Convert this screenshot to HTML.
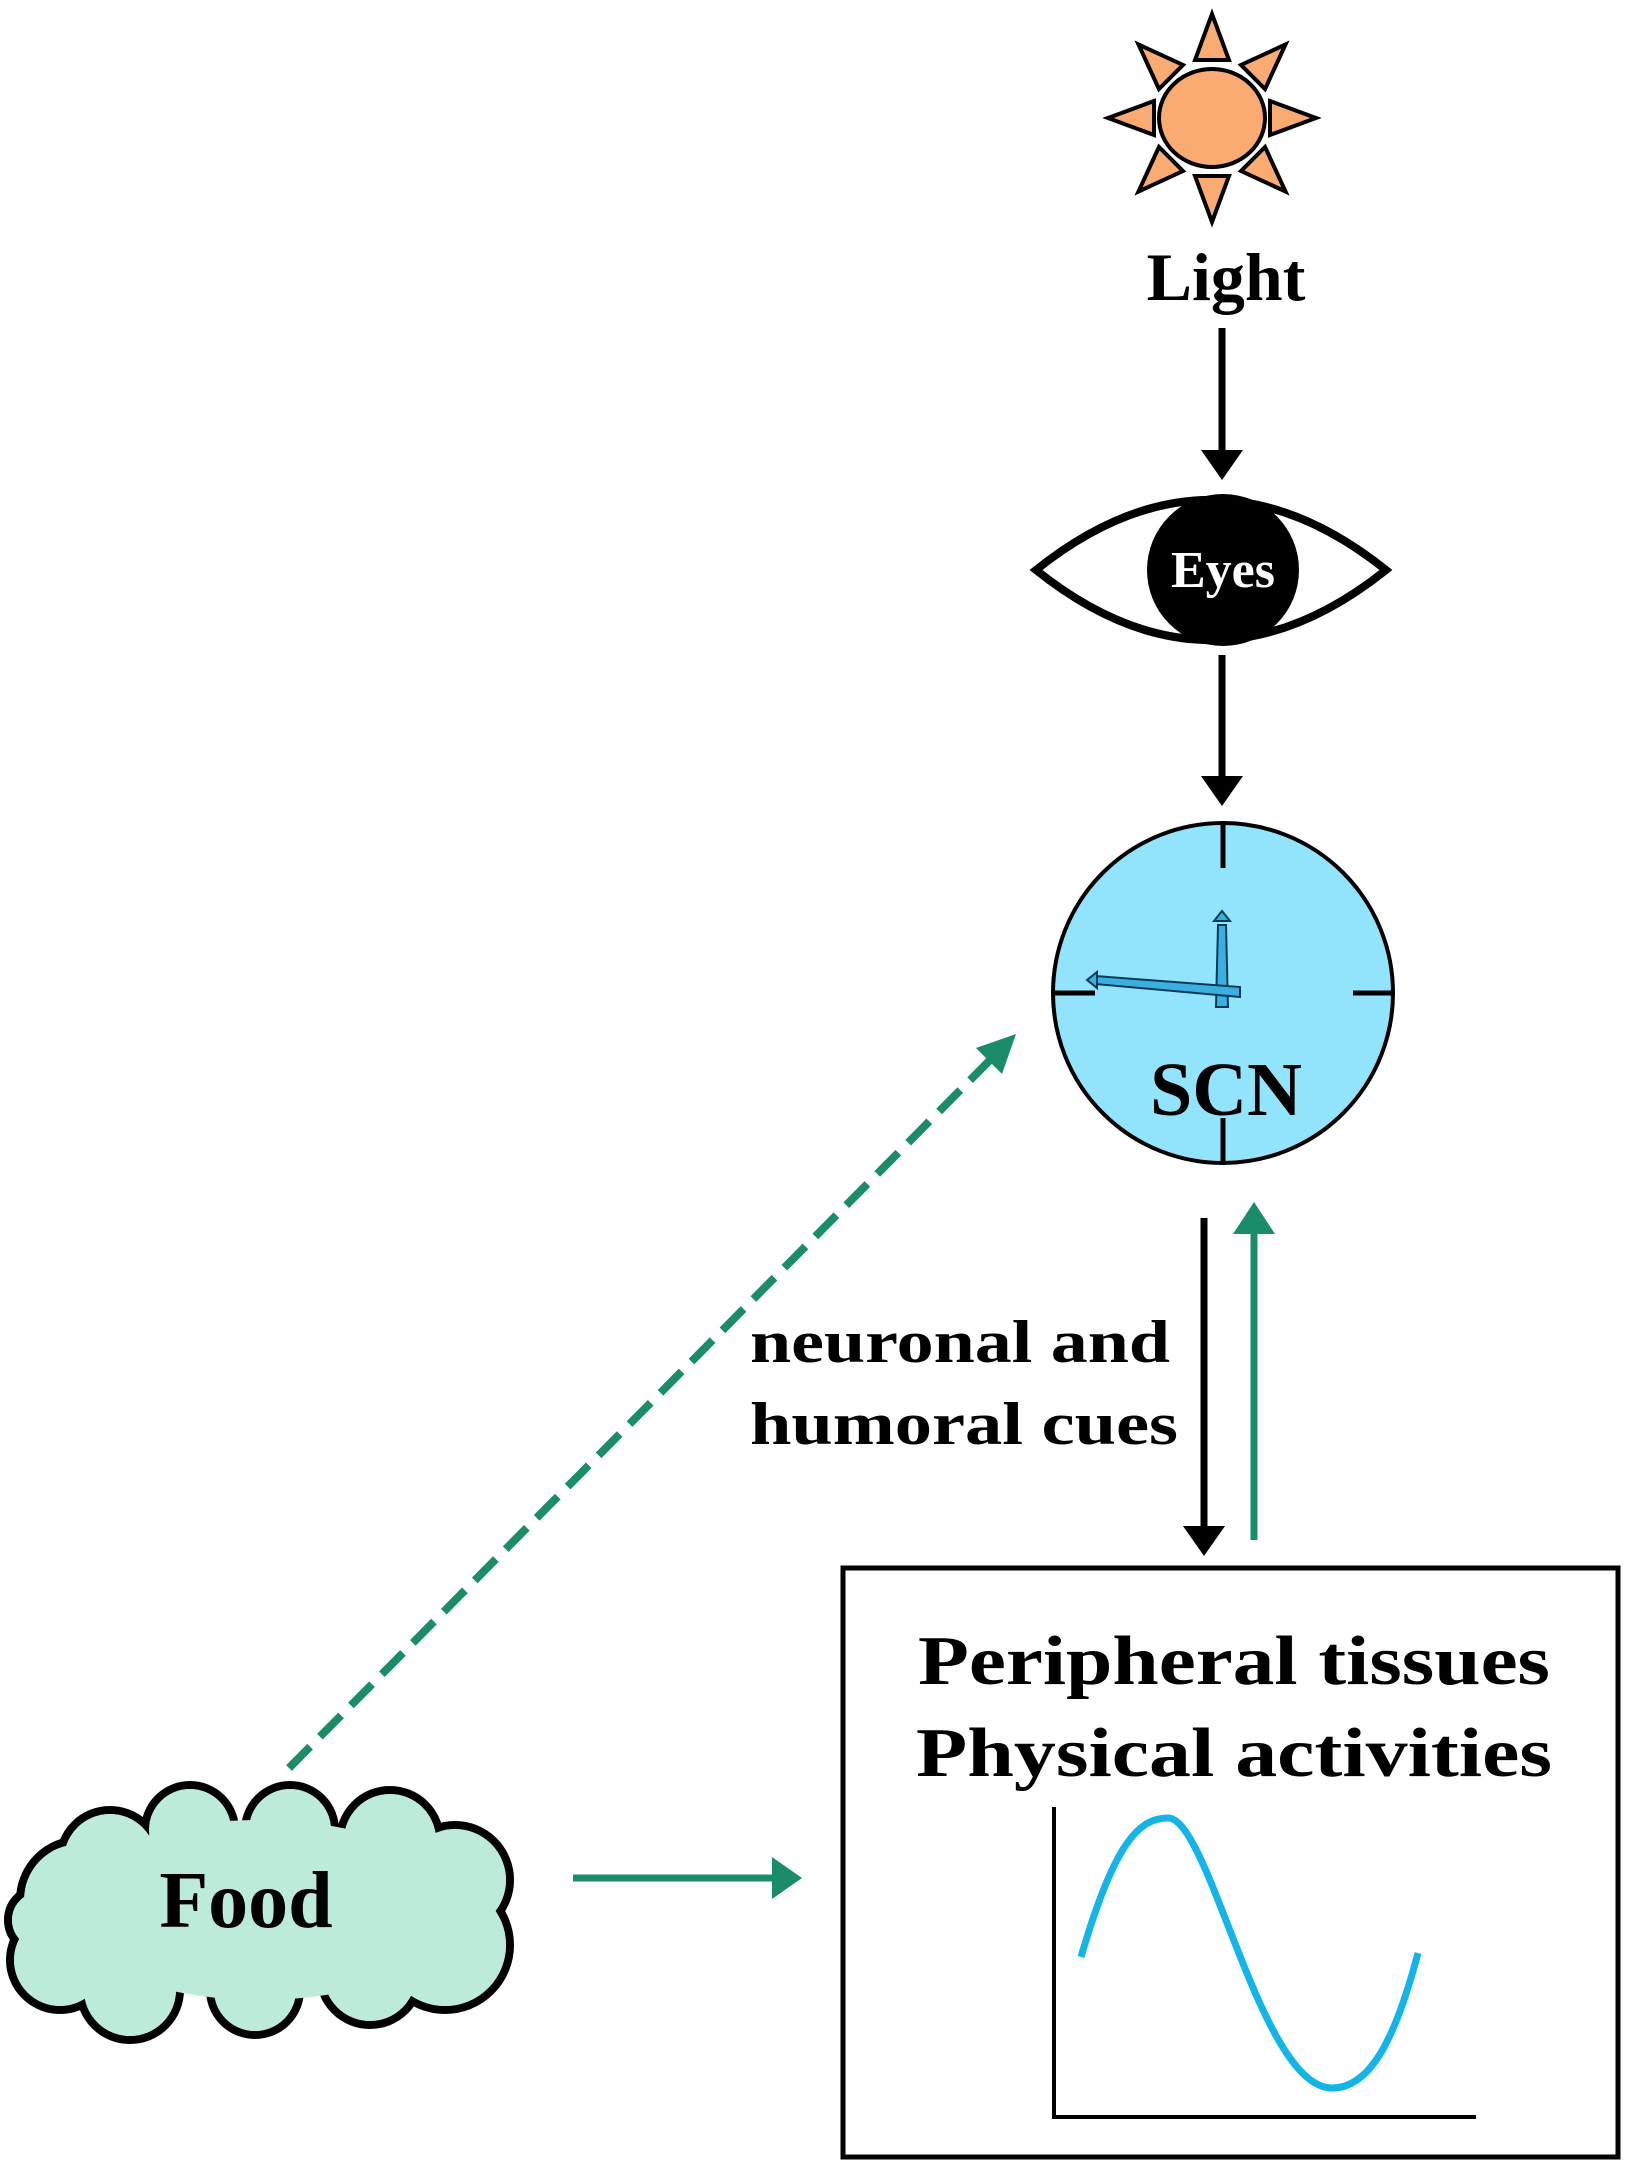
<!DOCTYPE html>
<html><head><meta charset="utf-8"><style>
html,body{margin:0;padding:0;background:#fff;}
svg{display:block;}
text{font-family:"Liberation Serif",serif;font-weight:bold;}
</style></head><body>
<svg width="1626" height="2174" viewBox="0 0 1626 2174" xmlns="http://www.w3.org/2000/svg">
<!-- Sun -->
<g fill="#f9ab72" stroke="#000" stroke-width="4">
<g transform="translate(1212,118)">
<polygon points="-17,-58 17,-58 0,-104" transform="rotate(0)"/>
<polygon points="-17,-58 17,-58 0,-104" transform="rotate(45)"/>
<polygon points="-17,-58 17,-58 0,-104" transform="rotate(90)"/>
<polygon points="-17,-58 17,-58 0,-104" transform="rotate(135)"/>
<polygon points="-17,-58 17,-58 0,-104" transform="rotate(180)"/>
<polygon points="-17,-58 17,-58 0,-104" transform="rotate(225)"/>
<polygon points="-17,-58 17,-58 0,-104" transform="rotate(270)"/>
<polygon points="-17,-58 17,-58 0,-104" transform="rotate(315)"/>
<ellipse cx="0" cy="0" rx="53" ry="49"/>
</g>
</g>
<text x="1226" y="300" font-size="68" text-anchor="middle">Light</text>
<!-- arrow light->eye -->
<line x1="1222" y1="328" x2="1222" y2="460" stroke="#000" stroke-width="7"/>
<polygon points="1201,450 1243,450 1222,480" fill="#000"/>
<!-- Eye -->
<path d="M1036,570 Q1211,430 1386,570 Q1211,710 1036,570 Z" fill="#fff" stroke="#000" stroke-width="8"/>
<circle cx="1223" cy="570" r="76" fill="#000"/>
<text x="1223" y="587" font-size="52" fill="#fff" text-anchor="middle">Eyes</text>
<!-- arrow eye->SCN -->
<line x1="1222" y1="655" x2="1222" y2="785" stroke="#000" stroke-width="7"/>
<polygon points="1201,776 1243,776 1222,806" fill="#000"/>
<!-- Clock -->
<circle cx="1223" cy="993" r="170" fill="#91e4fb" stroke="#000" stroke-width="4"/>
<g stroke="#000" stroke-width="5">
<line x1="1223" y1="823" x2="1223" y2="868"/>
<line x1="1223" y1="1118" x2="1223" y2="1163"/>
<line x1="1053" y1="993" x2="1095" y2="993"/>
<line x1="1353" y1="993" x2="1393" y2="993"/>
</g>
<g fill="#3ab0e0" stroke="#0b3a55" stroke-width="2">
<polygon points="1216,1007 1228,1007 1226,925 1218,925"/>
<polygon points="1214,921 1222,911 1230,921"/>
<polygon points="1240,987 1240,997 1095,984 1095,976"/>
<polygon points="1097,972 1087,980 1097,988"/>
</g>
<text x="1226" y="1115" font-size="76" text-anchor="middle">SCN</text>
<!-- down black arrow -->
<line x1="1204" y1="1218" x2="1204" y2="1535" stroke="#000" stroke-width="7"/>
<polygon points="1183,1526 1225,1526 1204,1556" fill="#000"/>
<!-- up green arrow -->
<line x1="1254" y1="1540" x2="1254" y2="1225" stroke="#1a8c6a" stroke-width="7"/>
<polygon points="1233,1234 1275,1234 1254,1202" fill="#1a8c6a"/>
<text x="750" y="1362" font-size="60" textLength="420" lengthAdjust="spacingAndGlyphs">neuronal and</text>
<text x="750" y="1444" font-size="60" textLength="428" lengthAdjust="spacingAndGlyphs">humoral cues</text>
<!-- dashed green -->
<line x1="289" y1="1768" x2="995" y2="1055" stroke="#1a8c6a" stroke-width="8" stroke-dasharray="30,14"/>
<polygon points="1016,1034 976,1048 1002,1074" fill="#1a8c6a"/>
<!-- box -->
<rect x="843" y="1568" width="775" height="589" fill="#fff" stroke="#000" stroke-width="5"/>
<text x="1234" y="1684" font-size="70" text-anchor="middle" textLength="632" lengthAdjust="spacingAndGlyphs">Peripheral tissues</text>
<text x="1234" y="1776" font-size="70" text-anchor="middle" textLength="636" lengthAdjust="spacingAndGlyphs">Physical activities</text>
<polyline points="1054,1807 1054,2117 1476,2117" fill="none" stroke="#000" stroke-width="4"/>
<path d="M1081,1957 C1115,1840 1140,1818 1168,1818 C1210,1818 1260,2088 1332,2088 C1370,2088 1395,2040 1418,1953" fill="none" stroke="#13b4e8" stroke-width="7"/>
<!-- cloud -->
<g fill="#bdebd9" stroke="#000" stroke-width="8">
<circle cx="80" cy="1900" r="60"/><circle cx="60" cy="1960" r="50"/><circle cx="130" cy="1990" r="50"/>
<circle cx="255" cy="1990" r="45"/><circle cx="370" cy="1975" r="50"/><circle cx="445" cy="1945" r="65"/>
<circle cx="455" cy="1880" r="55"/><circle cx="390" cy="1840" r="50"/><circle cx="290" cy="1830" r="45"/>
<circle cx="190" cy="1830" r="45"/><circle cx="110" cy="1860" r="50"/><circle cx="40" cy="1920" r="32"/>
</g>
<g fill="#bdebd9">
<circle cx="80" cy="1900" r="56"/><circle cx="60" cy="1960" r="46"/><circle cx="130" cy="1990" r="46"/>
<circle cx="255" cy="1990" r="41"/><circle cx="370" cy="1975" r="46"/><circle cx="445" cy="1945" r="61"/>
<circle cx="455" cy="1880" r="51"/><circle cx="390" cy="1840" r="46"/><circle cx="290" cy="1830" r="41"/>
<circle cx="190" cy="1830" r="41"/><circle cx="110" cy="1860" r="46"/><circle cx="40" cy="1920" r="28"/>
<ellipse cx="260" cy="1910" rx="200" ry="90"/>
</g>
<text x="246" y="1927" font-size="80" text-anchor="middle">Food</text>
<!-- green arrow food->box -->
<line x1="573" y1="1878" x2="780" y2="1878" stroke="#1a8c6a" stroke-width="7"/>
<polygon points="772,1857 772,1899 802,1878" fill="#1a8c6a"/>
</svg>
</body></html>
